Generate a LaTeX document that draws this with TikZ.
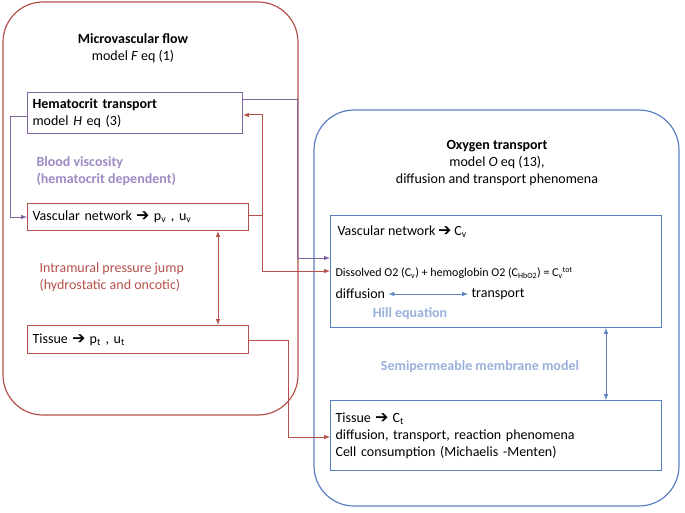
\documentclass[tikz,border=0pt]{standalone}
\usepackage{fontspec}
\setmainfont{Carlito}
\usepackage{pifont}
\definecolor{flowred}{HTML}{B5504A}
\definecolor{hemapurple}{HTML}{8064A2}
\definecolor{oxyblue}{HTML}{5B7FC0}
\definecolor{lightblue}{HTML}{9AB0DB}
\definecolor{lightpurple}{HTML}{9C8BC4}
\newcommand{\arr}{\ding{212}}
\begin{document}
\begin{tikzpicture}[x=1pt,y=-1pt,font=\fontsize{14}{17}\selectfont,
	panel/.style={rounded corners=40pt, line width=1.2pt},
	box/.style={draw, line width=1.1pt, anchor=north west, align=left, inner sep=5pt},
	link/.style={line width=1pt, -latex},
	both/.style={line width=1pt, latex-latex}]
	\useasboundingbox (0,0) rectangle (685,513);
	% panels
	\draw [panel, flowred] (3,2) rectangle (298,415);
	\draw [panel, oxyblue] (314,110) rectangle (679,506);
	\node (ftitle) at (133,48) [align=center] {\textbf{Microvascular flow}\\model \textit{F} eq (1)};
	\node (otitle) at (497,163) [align=center] {\textbf{Oxygen transport}\\model \textit{O} eq (13),\\diffusion and transport phenomena};
	% left boxes
	\node (hema) [box, draw=hemapurple, text width=205pt, minimum height=41pt] at (27,92)
		{\textbf{Hematocrit transport}\\model \textit{H} eq (3)};
	\node (vasc) [box, draw=flowred, text width=211pt, minimum height=27pt] at (27,203)
		{Vascular network \arr{} p$_\mathrm{v}$ , u$_\mathrm{v}$};
	\node (tiss) [box, draw=flowred, text width=211pt, minimum height=28pt] at (27,325)
		{Tissue \arr{} p$_\mathrm{t}$ , u$_\mathrm{t}$};
	\node (visc) at (33,171) [anchor=west, align=left, text=lightpurple] {\textbf{Blood viscosity}\\\textbf{(hematocrit dependent)}};
	\node (jump) at (36,277) [anchor=west, align=left, text=flowred] {Intramural pressure jump\\(hydrostatic and oncotic)};
	% right boxes
	\node (ovasc) [box, draw=oxyblue, minimum width=331pt, minimum height=112pt] at (330,215) {};
	\node (ovtxt) at (334,232) [anchor=west] {Vascular network \arr{} C$_\mathrm{v}$};
	\node (dissolved) at (332,273) [anchor=west, font=\fontsize{12}{14}\selectfont]
		{Dissolved O2 (C$_\mathrm{v}$) + hemoglobin O2 (C$_\mathrm{HbO2}$) = C$_\mathrm{v}$\textsuperscript{tot}};
	\node (diff) at (332,294) [anchor=west] {diffusion};
	\node (trans) at (468,294) [anchor=west] {transport};
	\node (hill) at (410,314) [text=lightblue] {\textbf{Hill equation}};
	\node (otiss) [box, draw=oxyblue, text width=321pt, minimum height=70pt] at (330,400)
		{Tissue \arr{} C$_\mathrm{t}$\\diffusion, transport, reaction phenomena\\Cell consumption (Michaelis -Menten)};
	\node (membrane) at (480,367) [text=lightblue] {\textbf{Semipermeable membrane model}};
	% connectors
	\draw [both, oxyblue] (diff.east) -- (trans.west);
	\draw [both, oxyblue] (ovasc.south -| 606,0) -- (otiss.north -| 606,0);
	\draw [both, flowred] (vasc.south -| 218,0) -- (tiss.north -| 218,0);
	\draw [link, hemapurple] (hema.west |- 0,117) -| (10,217) -- (vasc.west |- 0,217);
	\draw [link, hemapurple] (hema.east |- 0,100) -| (297,258) -- (ovasc.west |- 0,258);
	\draw [link, flowred] (vasc.east |- 0,215) -| (262,115) -- (hema.east |- 0,115);
	\draw [link, flowred] (262,215) |- (ovasc.west |- 0,271);
	\draw [link, flowred] (tiss.east |- 0,340) -| (288,437) -- (otiss.west |- 0,437);
\end{tikzpicture}
\end{document}
